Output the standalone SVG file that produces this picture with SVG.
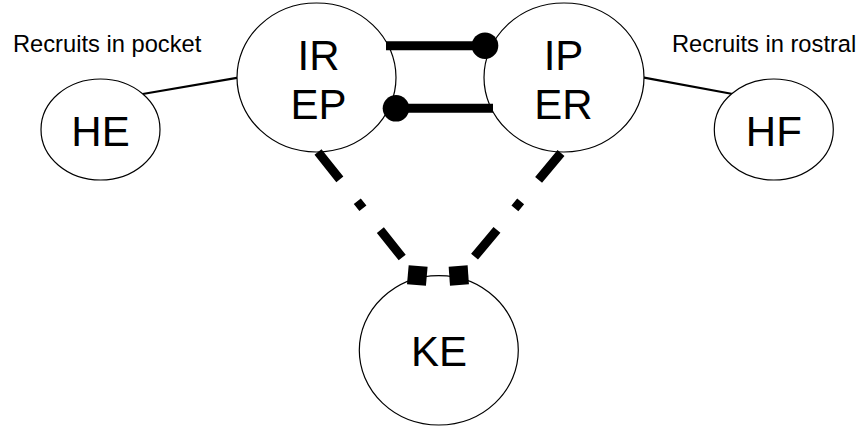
<svg xmlns="http://www.w3.org/2000/svg" width="865" height="427" viewBox="0 0 865 427">
  <style>
    .node ellipse { fill: #fff; stroke: #000; stroke-width: 1.2; }
    .big { font-family: "Liberation Sans", Arial, sans-serif; font-size: 42px; fill: #000; text-anchor: middle; }
    .note { font-family: "Liberation Sans", Arial, sans-serif; font-size: 23.7px; fill: #000; }
    .thin { stroke: #000; stroke-width: 2.2; fill: none; }
    .bar { stroke: #000; stroke-width: 9; fill: none; }
    .dashdot { stroke: #000; stroke-width: 9; fill: none; stroke-dasharray: 35 28 9 28; }
  </style>
  <rect width="865" height="427" fill="#fff"/>

  <!-- thin connectors to the side nodes -->
  <g id="connectors">
    <line class="thin" x1="142.7" y1="94" x2="238.3" y2="77.7"/>
    <line class="thin" x1="642.7" y1="77.3" x2="732.7" y2="94"/>
  </g>

  <g id="labels">
    <text class="note" x="13" y="52.3">Recruits in pocket</text>
    <text class="note" x="672" y="52.3">Recruits in rostral</text>
  </g>

  <g id="node-HE" class="node">
    <ellipse cx="100.5" cy="129.5" rx="59.5" ry="50.5"/>
    <text class="big" x="100.5" y="145.5">HE</text>
  </g>
  <g id="node-HF" class="node">
    <ellipse cx="773.8" cy="129.5" rx="59.5" ry="50.5"/>
    <text class="big" x="773.8" y="145.5">HF</text>
  </g>
  <g id="node-IREP" class="node">
    <ellipse cx="316.5" cy="77.5" rx="79.5" ry="74.5"/>
    <text class="big" x="318.5" y="69.5">IR</text>
    <text class="big" x="318.5" y="118.5">EP</text>
  </g>
  <g id="node-IPER" class="node">
    <ellipse cx="564" cy="77.5" rx="80" ry="74.5"/>
    <text class="big" x="563.5" y="69.5">IP</text>
    <text class="big" x="563.5" y="118.5">ER</text>
  </g>
  <g id="node-KE" class="node">
    <ellipse cx="438.8" cy="350.3" rx="79.5" ry="74.7"/>
    <text class="big" x="439" y="366.3">KE</text>
  </g>

  <!-- heavy links: ball-ended bars and dash-dot lines with square ends -->
  <g id="links">
    <line class="bar" x1="386" y1="45.7" x2="485" y2="45.7"/>
    <circle cx="485" cy="45.7" r="13.3"/>
    <line class="bar" x1="396" y1="108.3" x2="493" y2="108.3"/>
    <circle cx="396" cy="108.3" r="13.3"/>
    <path class="dashdot" d="M318 152 L416.7 275.7"/>
    <path class="dashdot" d="M561 153 L458.7 275.7"/>
    <rect x="-9.5" y="-9.5" width="19" height="19" transform="translate(417.3 275.5) rotate(5)"/>
    <rect x="-9.5" y="-9.5" width="19" height="19" transform="translate(458.8 275.5) rotate(-4)"/>
  </g>
</svg>
